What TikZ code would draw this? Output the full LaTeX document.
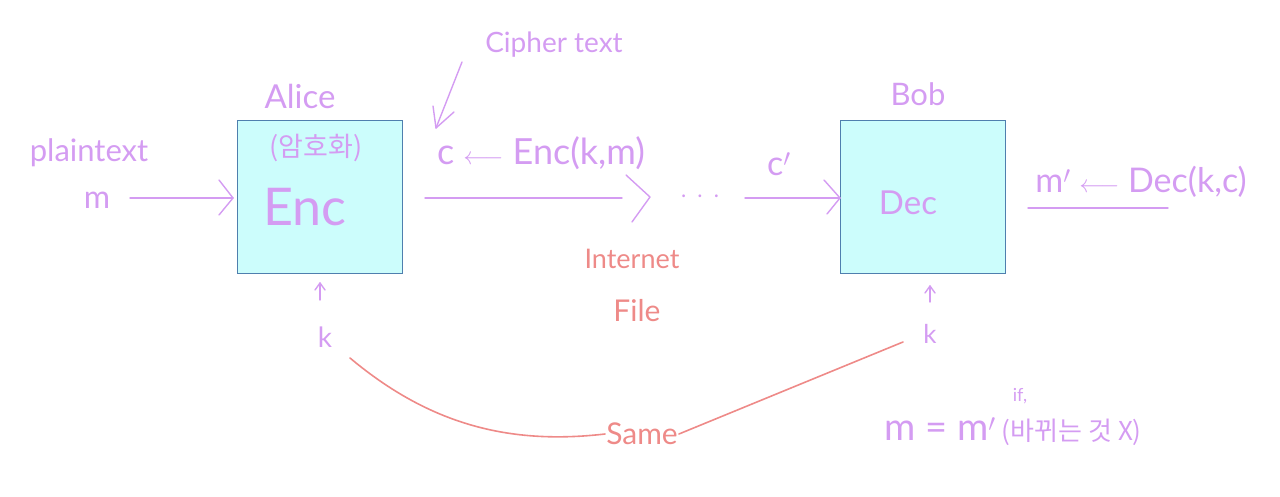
\documentclass[tikz,border=0pt]{standalone}
\usepackage{fontspec}
\setmainfont{Lato}
\newfontfamily\kr{Noto Sans CJK KR}
\definecolor{lav}{HTML}{D49CF2}
\definecolor{sal}{HTML}{EE8A88}
\definecolor{boxfill}{HTML}{CCFDFC}
\definecolor{boxline}{HTML}{4F7FAE}
\tikzset{
  pen/.style={draw=lav, line width=1.4pt, line cap=round, line join=round},
  salpen/.style={draw=sal, line width=1.6pt, line cap=round},
  txt/.style={text=lav, inner sep=1pt},
  stxt/.style={text=sal, inner sep=1pt},
  blockbox/.style={draw=boxline, fill=boxfill, line width=0.8pt, minimum width=165pt, minimum height=153pt, inner sep=0pt},
}
\begin{document}
\begin{tikzpicture}[x=1pt,y=-1pt]
\useasboundingbox (0,0) rectangle (1280,497);
% boxes
\node[blockbox] (alice) at (319.5,196.5) {};
\node[blockbox] (bob) at (923,196.5) {};
\node[txt, font=\fontsize{33}{35}\selectfont] (alicelbl) at (300,96) {Alice};
\node[txt, font=\fontsize{31}{33}\selectfont] (boblbl) at (918,94) {Bob};
\node[txt, font=\kr\fontsize{27}{29}\selectfont] (kenc) at (316,148) {(암호화)};
\node[txt, font=\fontsize{52}{54}\selectfont] (enc) at (305,207) {Enc};
\node[txt, font=\fontsize{33}{35}\selectfont] (dec) at (908,203) {Dec};
% plaintext
\node[txt, font=\fontsize{31}{33}\selectfont] (plain) at (89,153) {plaintext};
\node[txt, font=\fontsize{32}{34}\selectfont] (m) at (97,200) {m};
\coordinate (ain) at (233,198);
\draw[pen] (130,198) -- (ain);
\draw[pen] (ain) ++(-14,-18) -- (ain) -- ++(-14,17);
% channel
\coordinate (c1s) at (425,198);
\coordinate (c1e) at (650,197);
\draw[pen] (c1s) -- (622,198);
\draw[pen] (c1e) ++(-24,-22) -- (c1e) -- ++(-18,25);
\node[txt, font=\fontsize{22}{24}\selectfont] (dots) at (700,196) {. \,. \,.};
\coordinate (c2s) at (745,198);
\coordinate (bin) at (840,198);
\draw[pen] (c2s) -- (bin);
\draw[pen] (bin) ++(-16,-18) -- (bin) -- ++(-13,16);
\node[txt, font=\fontsize{34}{36}\selectfont] (cp) at (779,164) {c$'$};
\node[txt, font=\fontsize{36}{38}\selectfont] (cenc) at (541,153) {c $\longleftarrow$ Enc(k,m)};
\node[txt, font=\fontsize{28}{30}\selectfont] (cipher) at (554,45) {Cipher text};
\coordinate (ciphtail) at (462,62);
\coordinate (ciphhead) at (436,128);
\draw[pen] (ciphtail) -- (ciphhead);
\draw[pen] (ciphhead) ++(-3,-22) -- (ciphhead) -- ++(18,-16);
% internet
\node[stxt, font=\fontsize{27}{29}\selectfont] (internet) at (632,259) {Internet};
\node[stxt, font=\fontsize{30}{32}\selectfont] (file) at (637,311) {File};
% dec result
\node[txt, font=\fontsize{34}{36}\selectfont] (mdec) at (1141,182) {m$'$ $\longleftarrow$ Dec(k,c)};
\coordinate (ul1) at (1028,208);
\coordinate (ul2) at (1168,208);
\draw[pen] (ul1) -- (ul2);
% keys
\node[txt, font=\fontsize{28}{30}\selectfont] (ka) at (325,337) {k};
\node[txt, font=\fontsize{26}{28}\selectfont] (kb) at (930,334) {k};
\coordinate (kat) at (320,300);
\coordinate (kah) at (320,283);
\draw[pen] (kat) -- (kah);
\draw[pen] (kah) ++(-5,7) -- (kah) -- ++(5,7);
\coordinate (kbt) at (930,302);
\coordinate (kbh) at (930,286);
\draw[pen] (kbt) -- (kbh);
\draw[pen] (kbh) ++(-5,7) -- (kbh) -- ++(5,7);
% same
\node[stxt, font=\fontsize{30}{32}\selectfont] (same) at (642,434) {Same};
\draw[salpen] (350,358) .. controls (430,425) and (510,445) .. (same.west);
\draw[salpen] (same.east) -- (903,342);
% equality
\node[txt, font=\fontsize{18}{20}\selectfont] (iff) at (1020,396) {if,};
\node[txt, font=\fontsize{38}{40}\selectfont] (eq) at (1013,432) {m = m$'$\,{\kr\fontsize{26}{28}\selectfont(바뀌는 것 X)}};
\end{tikzpicture}
\end{document}
